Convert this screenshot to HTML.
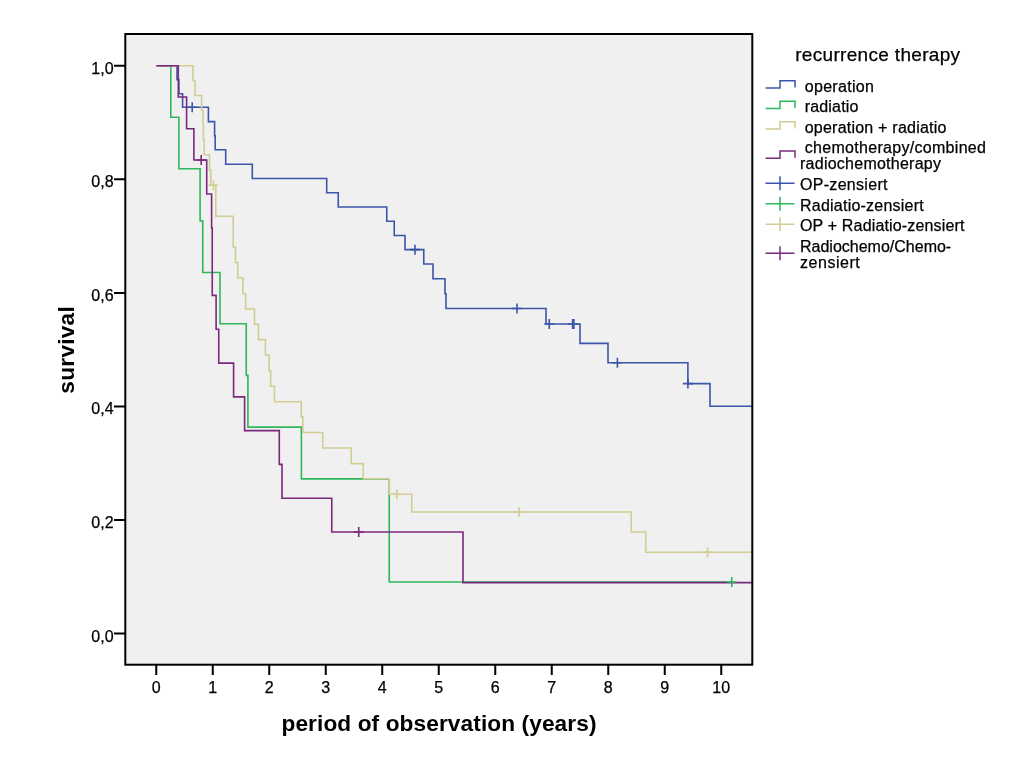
<!DOCTYPE html>
<html lang="en"><head><meta charset="utf-8"><title>survival – recurrence therapy</title>
<style>
html,body{margin:0;padding:0;background:#fff;}
body{width:1024px;height:768px;overflow:hidden;}
svg{display:block;}
text{font-family:"Liberation Sans",Arial,Helvetica,sans-serif;fill:#000;}
.tk{font-size:16px;stroke:#000;stroke-width:.25px;}
.lg{font-size:16px;letter-spacing:0.3px;stroke:#000;stroke-width:.25px;}
.ttl{font-size:22.67px;font-weight:bold;}
.tx{letter-spacing:0.1px;}
.ty{letter-spacing:0.25px;}
</style></head><body>
<svg width="1024" height="768" viewBox="0 0 1024 768">
<rect x="0" y="0" width="1024" height="768" fill="#fff"/>
<rect x="125.3" y="34" width="627" height="630.7" fill="#F0F0F0"/>
<clipPath id="cp"><rect x="125.3" y="34" width="627" height="630.7"/></clipPath>
<g clip-path="url(#cp)" fill="none" stroke-width="1.6" stroke-linejoin="miter">
<path d="M156.5,65.8 H177 V79.6 H178.9 V93.7 H182.6 V107.3 H208.4 V121.6 H214.6 V135.7 H215.2 V149.8 H225.7 V164.2 H252.3 V178.55 H326.7 V192.8 H338.25 V207.05 H386.75 V221.25 H394.25 V235.45 H405 V249.65 H423.75 V264 H433 V278.75 H445 V293.75 H446 V308.5 H546 V324 H580 V343.4 H608 V362.7 H687.9 V383.6 H710 V406.3 H752" stroke="#3A55A9"/>
<path d="M156.5,65.8 H170.8 V117.2 H178.9 V168.7 H200.1 V220.9 H202.75 V272.5 H220 V323.75 H246.25 V375.4 H247.9 V427.1 H301.4 V478.9 H389.25 V582 H731.75" stroke="#2DB75A"/>
<path d="M156.5,65.8 H193 V80.5 H195 V95.5 H201.6 V110.3 H203 V124.4 H203.4 V140.3 H204.2 V154.8 H209.5 V170.1 H210.8 V185.3 H215.8 V216.25 H233.2 V247 H235.5 V262.5 H237.75 V277.9 H242.9 V293.75 H245.6 V309 H254.5 V324.4 H258.5 V339.6 H265.4 V355 H269.1 V370.6 H270.6 V386.25 H274.5 V401.75 H301.25 V416.9 H302.9 V432.5 H322.75 V448 H351.25 V463.6 H363.25 V478.8 H389.25 V494.25 H411.75 V512 H631.25 V532 H645.75 V552.25 H752" stroke="#D1CD94"/>
<path d="M156.5,65.8 H178.3 V97 H186.6 V128.7 H193.9 V160 H206.7 V194 H211.6 V227.9 H212.25 V295.4 H216.1 V329.3 H218.75 V363.1 H233.6 V396.9 H244.6 V430.6 H279.3 V464.4 H282 V498.25 H331.75 V532 H463 V582.6 H752" stroke="#79287D"/>
<path d="M187.2,107.3H197.2M192.2,102.3V112.3M410,249.65H420M415,244.65V254.65M512,308.5H522M517,303.5V313.5M544.25,324H554.25M549.25,319V329M567.6,324H577.6M572.6,319V329M568.9,324H578.9M573.9,319V329M612.4,362.7H622.4M617.4,357.7V367.7M682.9,383.6H692.9M687.9,378.6V388.6" stroke="#3A55A9" stroke-width="1.6" fill="none"/>
<path d="M726.75,582H736.75M731.75,577V587" stroke="#2DB75A" stroke-width="1.6" fill="none"/>
<path d="M208.35,185.3H218.35M213.35,180.3V190.3M391.75,494.25H401.75M396.75,489.25V499.25M514.1,512H524.1M519.1,507V517M702.5,552.25H712.5M707.5,547.25V557.25" stroke="#D1CD94" stroke-width="1.6" fill="none"/>
<path d="M196.2,160H206.2M201.2,155V165M353.75,532H363.75M358.75,527V537" stroke="#79287D" stroke-width="1.6" fill="none"/>
</g>
<rect x="125.3" y="34" width="627" height="630.7" fill="none" stroke="#000" stroke-width="2"/>
<path d="M114,65.8H125.3M114,179.3H125.3M114,292.9H125.3M114,406.4H125.3M114,520.0H125.3M114,633.5H125.3M156.25,664.7V675M212.75,664.7V675M269.25,664.7V675M325.75,664.7V675M382.25,664.7V675M438.75,664.7V675M495.25,664.7V675M551.75,664.7V675M608.25,664.7V675M664.75,664.7V675M721.25,664.7V675" stroke="#000" stroke-width="2" fill="none"/>
<text class="tk" x="113.6" y="73.8" text-anchor="end">1,0</text>
<text class="tk" x="113.6" y="187.3" text-anchor="end">0,8</text>
<text class="tk" x="113.6" y="300.9" text-anchor="end">0,6</text>
<text class="tk" x="113.6" y="414.4" text-anchor="end">0,4</text>
<text class="tk" x="113.6" y="528.0" text-anchor="end">0,2</text>
<text class="tk" x="113.6" y="641.5" text-anchor="end">0,0</text>
<text class="tk" x="156.25" y="693.3" text-anchor="middle">0</text>
<text class="tk" x="212.75" y="693.3" text-anchor="middle">1</text>
<text class="tk" x="269.25" y="693.3" text-anchor="middle">2</text>
<text class="tk" x="325.75" y="693.3" text-anchor="middle">3</text>
<text class="tk" x="382.25" y="693.3" text-anchor="middle">4</text>
<text class="tk" x="438.75" y="693.3" text-anchor="middle">5</text>
<text class="tk" x="495.25" y="693.3" text-anchor="middle">6</text>
<text class="tk" x="551.75" y="693.3" text-anchor="middle">7</text>
<text class="tk" x="608.25" y="693.3" text-anchor="middle">8</text>
<text class="tk" x="664.75" y="693.3" text-anchor="middle">9</text>
<text class="tk" x="721.25" y="693.3" text-anchor="middle">10</text>
<text class="ttl tx" x="439" y="730.5" text-anchor="middle">period of observation (years)</text>
<text class="ttl ty" transform="translate(74.4,349.8) rotate(-90)" text-anchor="middle">survival</text>
<text x="795.2" y="60.5" style="font-size:19px;letter-spacing:0.32px;stroke:#000;stroke-width:.25px">recurrence therapy</text>
<path d="M765.6,88.1H780V80.8H795V87.6" stroke="#3A55A9" stroke-width="1.5" fill="none"/>
<text class="lg" x="804.75" y="91.5">operation</text>
<path d="M765.6,108.5H780V101.2H795V108.0" stroke="#2DB75A" stroke-width="1.5" fill="none"/>
<text class="lg" x="804.75" y="112.1" style="letter-spacing:.16px">radiatio</text>
<path d="M765.6,129H780V121.7H795V128.5" stroke="#D1CD94" stroke-width="1.5" fill="none"/>
<text class="lg" x="804.75" y="132.5" style="letter-spacing:.22px">operation + radiatio</text>
<path d="M765.6,158.2H780V150.89999999999998H795V157.7" stroke="#79287D" stroke-width="1.5" fill="none"/>
<text class="lg" x="804.75" y="153.1">chemotherapy/combined</text>
<text class="lg" x="800" y="169.4" style="letter-spacing:.25px">radiochemotherapy</text>
<path d="M765.5,183.25H794.5M780,176.25V190.25" stroke="#3A55A9" stroke-width="1.5" fill="none"/>
<text class="lg" x="800" y="190">OP-zensiert</text>
<path d="M765.5,203.75H794.5M780,196.75V210.75" stroke="#2DB75A" stroke-width="1.5" fill="none"/>
<text class="lg" x="800" y="210.6" style="letter-spacing:.23px">Radiatio-zensiert</text>
<path d="M765.5,224.25H794.5M780,217.25V231.25" stroke="#D1CD94" stroke-width="1.5" fill="none"/>
<text class="lg" x="800" y="231.2" style="letter-spacing:.16px">OP + Radiatio-zensiert</text>
<path d="M765.5,253.25H794.5M780,246.25V260.25" stroke="#79287D" stroke-width="1.5" fill="none"/>
<text class="lg" x="800" y="251.75" style="letter-spacing:0px">Radiochemo/Chemo-</text>
<text class="lg" x="800" y="268" style="letter-spacing:.54px">zensiert</text>
</svg></body></html>
